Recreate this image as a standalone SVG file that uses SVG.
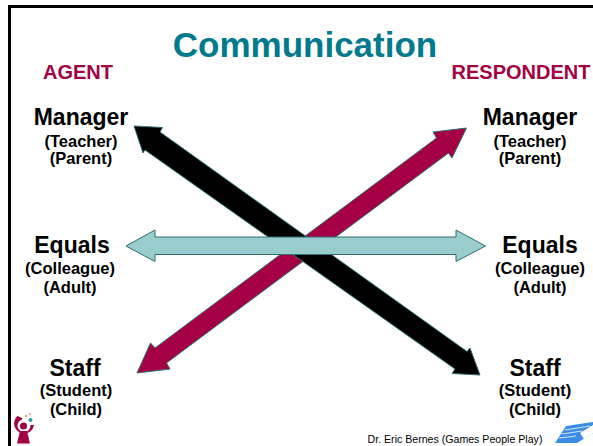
<svg xmlns="http://www.w3.org/2000/svg" width="593" height="446" viewBox="0 0 593 446">
<style>
text{font-family:"Liberation Sans",Arial,sans-serif;font-weight:bold;text-anchor:middle;fill:#000}
.main{font-size:23px}
.sub{font-size:16.500px}
.head{font-size:20px;fill:#A50044}
.arrow{stroke:#2F6F73;stroke-width:1;stroke-linejoin:miter}
</style>
<rect width="593" height="446" fill="#fff"/>
<path d="M9.500 446V6.500H593" fill="none" stroke="#000" stroke-width="3"/>
<text id="title" x="305" y="57" style="font-size:35px;fill:#007A8C">Communication</text>
<text x="78" y="79" class="head">AGENT</text>
<text x="521" y="79" class="head">RESPONDENT</text>
<g id="connectors">
<polygon class="arrow" fill="#A50044" points="466.500,128 433,132 436.500,138 155,348 150.500,343 137,373 170,369 166.500,363 448.500,153 452,158"/>
<polygon class="arrow" fill="#000" points="134,126 162.500,127.500 160,132 467,351.500 470,348 480,375 452,373.500 455,369 145,150 143,153"/>
<polygon class="arrow" fill="#99CCCC" points="126,246 155,230 155,237 456,237 456,230 485.500,246 456,261.500 456,254.500 155,254.500 155,261.500"/>
</g>
<g id="agent-manager"><text x="81" y="125" class="main">Manager</text><text x="81" y="147" class="sub">(Teacher)</text><text x="81" y="164" class="sub">(Parent)</text></g>
<g id="agent-equals"><text x="72" y="253" class="main">Equals</text><text x="70" y="274" class="sub">(Colleague)</text><text x="70" y="293" class="sub">(Adult)</text></g>
<g id="agent-staff"><text x="75" y="376" class="main">Staff</text><text x="76" y="396" class="sub">(Student)</text><text x="76" y="415" class="sub">(Child)</text></g>
<g id="respondent-manager"><text x="530" y="125" class="main">Manager</text><text x="530" y="147" class="sub">(Teacher)</text><text x="530" y="164" class="sub">(Parent)</text></g>
<g id="respondent-equals"><text x="540" y="253" class="main">Equals</text><text x="540" y="274" class="sub">(Colleague)</text><text x="540" y="293" class="sub">(Adult)</text></g>
<g id="respondent-staff"><text x="535" y="376" class="main">Staff</text><text x="535" y="396" class="sub">(Student)</text><text x="535" y="415" class="sub">(Child)</text></g>
<text id="credit" x="455" y="443" style="font-size:10.600px;font-weight:normal">Dr. Eric Bernes (Games People Play)</text>
<g id="logo-left">
<path d="M17 443.500L20 431H27L30 443.500Z" fill="#A50044"/>
<path d="M17.500 416A10 10 0 1 0 34 425L30.500 425A6.500 6.500 0 1 1 22 419.500L22 418Z" fill="#A50044"/>
<circle cx="23.500" cy="426" r="3.500" fill="#A50044"/>
<circle cx="30.500" cy="420" r="2" fill="#2A9AA8"/><circle cx="26" cy="416" r="1.200" fill="#E0B050"/><circle cx="30" cy="414" r="1" fill="#E090A0"/>
</g>
<g id="logo-right">
<polygon points="566,426 593,422 593,433 577,443 555,443" fill="#3C8CE6"/>
<path d="M565 430L590 426M562 434L582 431M559 438L576 436" stroke="#CFE4FA" stroke-width="1" fill="none"/>
<polygon points="580,433 593,425 593,433 584,439" fill="#fff"/>
</g>
</svg>
